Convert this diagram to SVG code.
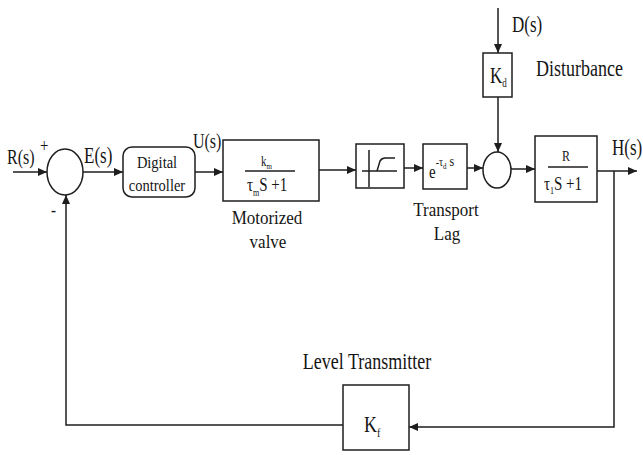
<svg xmlns="http://www.w3.org/2000/svg" width="643" height="455" viewBox="0 0 643 455">
<style>
.ln{fill:none;stroke:#1e1e1e;stroke-width:1.5}
.bx{fill:#fff;stroke:#1e1e1e;stroke-width:1.5}
.t{font-family:"Liberation Serif","Times New Roman",serif;fill:#151515}
</style>
<defs>
<marker id="ah" markerUnits="userSpaceOnUse" markerWidth="10" markerHeight="8" refX="9" refY="4" orient="auto">
<path d="M0,0 L9,4 L0,8 z" fill="#1e1e1e"/>
</marker>
</defs>
<rect width="643" height="455" fill="#fff"/>
<g id="connectors">
<path class="ln" d="M13,172 H47" marker-end="url(#ah)"/>
<path class="ln" d="M83,172 H123" marker-end="url(#ah)"/>
<path class="ln" d="M195,172 H223" marker-end="url(#ah)"/>
<path class="ln" d="M319,170 H356" marker-end="url(#ah)"/>
<path class="ln" d="M404,168 H423" marker-end="url(#ah)"/>
<path class="ln" d="M467,168 H483" marker-end="url(#ah)"/>
<path class="ln" d="M511,169 H535" marker-end="url(#ah)"/>
<path class="ln" d="M597,171 H637" marker-end="url(#ah)"/>
<path class="ln" d="M498,8 V53" marker-end="url(#ah)"/>
<path class="ln" d="M498,97 V152" marker-end="url(#ah)"/>
<path class="ln" d="M614,171 V427 H409" marker-end="url(#ah)"/>
<path class="ln" d="M343,425 H66 V195" marker-end="url(#ah)"/>
</g>
<g id="sum1">
<ellipse class="bx" cx="65" cy="172" rx="18" ry="23"/>
<text class="t" font-size="15" transform="translate(40,152) scale(1,1.3)">+</text>
<text class="t" font-size="15" transform="translate(51,216) scale(1,1.3)">-</text>
</g>
<g id="labels">
<text class="t" font-size="16" transform="translate(7,164) scale(1,1.3)">R(s)</text>
<text class="t" font-size="17" transform="translate(84,163) scale(1,1.3)">E(s)</text>
<text class="t" font-size="16" transform="translate(193,148) scale(1,1.3)">U(s)</text>
<text class="t" font-size="17" transform="translate(612,155) scale(1,1.3)">H(s)</text>
<text class="t" font-size="17" transform="translate(512,32) scale(1,1.3)">D(s)</text>
<text class="t" font-size="18" transform="translate(536,76) scale(1,1.3)">Disturbance</text>
<text class="t" font-size="17" text-anchor="middle" transform="translate(267,224) scale(1,1.15)">Motorized</text>
<text class="t" font-size="17" text-anchor="middle" transform="translate(268,248) scale(1,1.15)">valve</text>
<text class="t" font-size="17" text-anchor="middle" transform="translate(446,216) scale(1,1.15)">Transport</text>
<text class="t" font-size="17" text-anchor="middle" transform="translate(447,240) scale(1,1.15)">Lag</text>
<text class="t" font-size="18" text-anchor="middle" transform="translate(367,369) scale(1,1.3)">Level Transmitter</text>
</g>
<g id="digital-controller">
<rect class="bx" x="123" y="147" width="72" height="50" rx="9"/>
<text class="t" font-size="14.5" text-anchor="middle" transform="translate(157,168) scale(1,1.2)">Digital</text>
<text class="t" font-size="14.5" text-anchor="middle" transform="translate(157,191) scale(1,1.2)">controller</text>
</g>
<g id="motorized-valve">
<rect class="bx" x="223" y="140" width="96" height="61"/>
<text class="t" font-size="11" transform="translate(261,166) scale(1,1.3)">k<tspan font-size="7" dy="2">m</tspan></text>
<path class="ln" d="M245,171 H295"/>
<text class="t" font-size="15" transform="translate(247,191) scale(1,1.3)">τ<tspan font-size="8" dy="4">m</tspan><tspan dy="-4">S +1</tspan></text>
</g>
<g id="saturation">
<rect class="bx" x="356" y="144" width="48" height="44"/>
<path class="ln" d="M369,150 V187 M362,171 H397 M377,171 L380,161 Q382,158 385,158 L395,158"/>
</g>
<g id="transport-lag">
<rect class="bx" x="423" y="144" width="44" height="45"/>
<text class="t" font-size="15" transform="translate(429,178) scale(1,1.3)">e<tspan font-size="10" dy="-9">-τ</tspan><tspan font-size="7" dy="2">d</tspan><tspan font-size="12" dy="-2"> s</tspan></text>
</g>
<g id="kd">
<rect class="bx" x="483" y="53" width="29" height="44"/>
<text class="t" font-size="17" transform="translate(490,83) scale(1,1.3)">K<tspan font-size="9" dy="3">d</tspan></text>
</g>
<g id="sum2">
<ellipse class="bx" cx="497" cy="170" rx="14" ry="18"/>
</g>
<g id="plant">
<rect class="bx" x="535" y="136" width="62" height="66"/>
<text class="t" font-size="12" transform="translate(562,161) scale(1,1.3)">R</text>
<path class="ln" d="M548,167 H588"/>
<text class="t" font-size="15" transform="translate(544,190) scale(1,1.3)">τ<tspan font-size="8" dy="3">1</tspan><tspan dy="-3">S +1</tspan></text>
</g>
<g id="kf">
<rect class="bx" x="343" y="385" width="66" height="65"/>
<text class="t" font-size="18" transform="translate(364,432) scale(1,1.3)">K<tspan font-size="10" dy="4">f</tspan></text>
</g>
</svg>
